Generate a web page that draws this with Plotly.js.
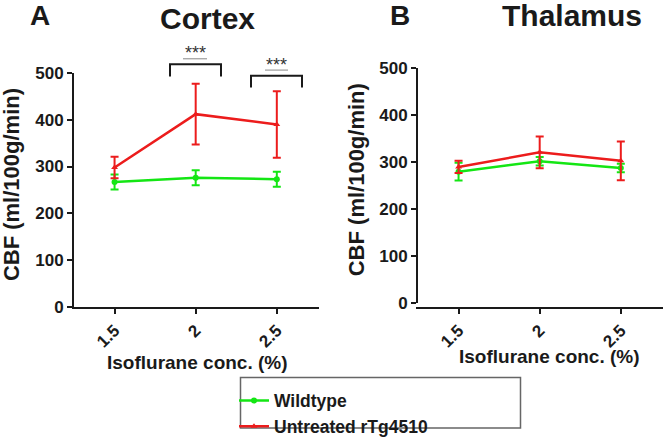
<!DOCTYPE html>
<html>
<head>
<meta charset="utf-8">
<script src="https://cdn.plot.ly/plotly-3.0.1.min.js"></script>
<style>html,body{margin:0;padding:0;background:#fff;}#chart{width:664px;height:445px;}</style>
</head>
<body>
<div id="chart"></div>
<script>
// ---- data ----
var conc = [1.5, 2, 2.5];
var tickLabels = ["1.5", "2", "2.5"];
var cortexWT = [267, 276, 273];
var cortexWTErr = [16, 16, 16];
var cortexTg = [298, 412, 390];
var cortexTgErr = [23, 65, 71];
var thalWT = [280, 302, 288];
var thalWTErr = [19, 9, 9];
var thalTg = [290, 321, 303];
var thalTgErr = [13, 34, 41];
var seriesNames = ["Wildtype", "Untreated rTg4510"];
var sigLabel = "***";

// ---- styling helpers ----
var W = 664, H = 445;
function X(px) { return px / W; }
function Y(py) { return 1 - py / H; }
var FONT = "Liberation Sans, Arial, sans-serif";
var GREEN = "#14e614", RED = "#ec1c1c", INK = "#1a1a1a";

function trace(x, y, err, name, color, sym, xa, ya, legend) {
  return {
    x: x, y: y, name: name, type: "scatter", mode: "lines+markers",
    xaxis: xa, yaxis: ya, showlegend: legend,
    line: {color: color, width: 2.5},
    marker: {color: color, size: 6, symbol: sym},
    error_y: {type: "data", array: err, visible: true, color: color, thickness: 2, width: 4},
    cliponaxis: false
  };
}

var data = [
  trace(conc, cortexWT, cortexWTErr, seriesNames[0], GREEN, "circle", "x", "y", true),
  trace(conc, cortexTg, cortexTgErr, seriesNames[1], RED, "triangle-up", "x", "y", true),
  trace(conc, thalWT, thalWTErr, seriesNames[0], GREEN, "circle", "x2", "y2", false),
  trace(conc, thalTg, thalTgErr, seriesNames[1], RED, "triangle-up", "x2", "y2", false)
];

function xAxis(dom) {
  return {
    domain: dom, range: [1.25, 2.76], tickvals: conc, ticktext: tickLabels,
    tickangle: -45, ticks: "outside", ticklen: 5, tickwidth: 2, tickcolor: INK,
    showline: true, linewidth: 2, linecolor: INK, showgrid: false, zeroline: false,
    tickfont: {family: FONT, size: 17, color: INK, weight: "bold"}, fixedrange: true
  };
}
function yAxis(dom, anchor) {
  return {
    domain: dom, range: [0, 500], tickvals: [0, 100, 200, 300, 400, 500], anchor: anchor,
    ticks: "outside", ticklen: 5, tickwidth: 2, tickcolor: INK,
    showline: true, linewidth: 2, linecolor: INK, showgrid: false, zeroline: false,
    tickfont: {family: FONT, size: 17, color: INK, weight: "bold"}, fixedrange: true
  };
}

function txt(text, px, py, size, extra) {
  var a = {text: text, xref: "paper", yref: "paper", x: X(px), y: Y(py),
    xanchor: "center", yanchor: "middle", showarrow: false,
    font: {family: FONT, size: size, color: INK, weight: "bold"}};
  for (var k in extra) a[k] = extra[k];
  return a;
}

function bracket(x0, x1, yt, yb) {
  return {type: "path", xref: "paper", yref: "paper",
    path: "M" + X(x0) + "," + Y(yb) + " L" + X(x0) + "," + Y(yt) + " L" + X(x1) + "," + Y(yt) + " L" + X(x1) + "," + Y(yb),
    line: {color: INK, width: 2}};
}
function uline(x0, x1, yy) {
  return {type: "line", xref: "paper", yref: "paper", x0: X(x0), x1: X(x1), y0: Y(yy), y1: Y(yy),
    line: {color: "#888", width: 1}};
}

var layout = {
  width: W, height: H, margin: {l: 0, r: 0, t: 0, b: 0},
  paper_bgcolor: "#fff", plot_bgcolor: "rgba(0,0,0,0)",
  xaxis: xAxis([X(74), X(319)]),
  yaxis: yAxis([Y(318.3), Y(75.7)], "x"),
  xaxis2: xAxis([X(418), X(663)]),
  yaxis2: yAxis([Y(314.7), Y(70.7)], "x2"),
  showlegend: true,
  legend: {x: X(234), y: Y(397), xanchor: "left", yanchor: "top", orientation: "v",
    bgcolor: "rgba(0,0,0,0)", borderwidth: 0, itemwidth: 30,
    font: {family: FONT, size: 17.5, color: INK, weight: "bold"}},
  annotations: [
    txt("A", 40, 16, 28),
    txt("Cortex", 207, 19, 30),
    txt("B", 400, 16, 28),
    txt("Thalamus", 572, 16, 30),
    txt("CBF (ml/100g/min)", 11, 192, 22, {textangle: -90}),
    txt("CBF (ml/100g/min)", 356, 187, 22, {textangle: -90}),
    txt("Isoflurane conc. (%)", 197, 376, 19),
    txt("Isoflurane conc. (%)", 549, 370, 19),
    txt(sigLabel, 195, 55, 18, {font: {family: FONT, size: 18, color: "#333"}}),
    txt(sigLabel, 276.5, 67, 18, {font: {family: FONT, size: 18, color: "#333"}})
  ],
  shapes: [
    bracket(170, 221, 66.7, 79.3),
    bracket(251, 302, 78.7, 90.7),
    uline(183, 207, 61),
    uline(265, 288, 72.7),
    {type: "rect", xref: "paper", yref: "paper", x0: X(240.5), x1: X(520.5), y0: Y(444), y1: Y(391.5),
      line: {color: "#666", width: 1.5}}
  ]
};

Plotly.newPlot("chart", data, layout, {displayModeBar: false, staticPlot: true});
</script>
</body>
</html>
